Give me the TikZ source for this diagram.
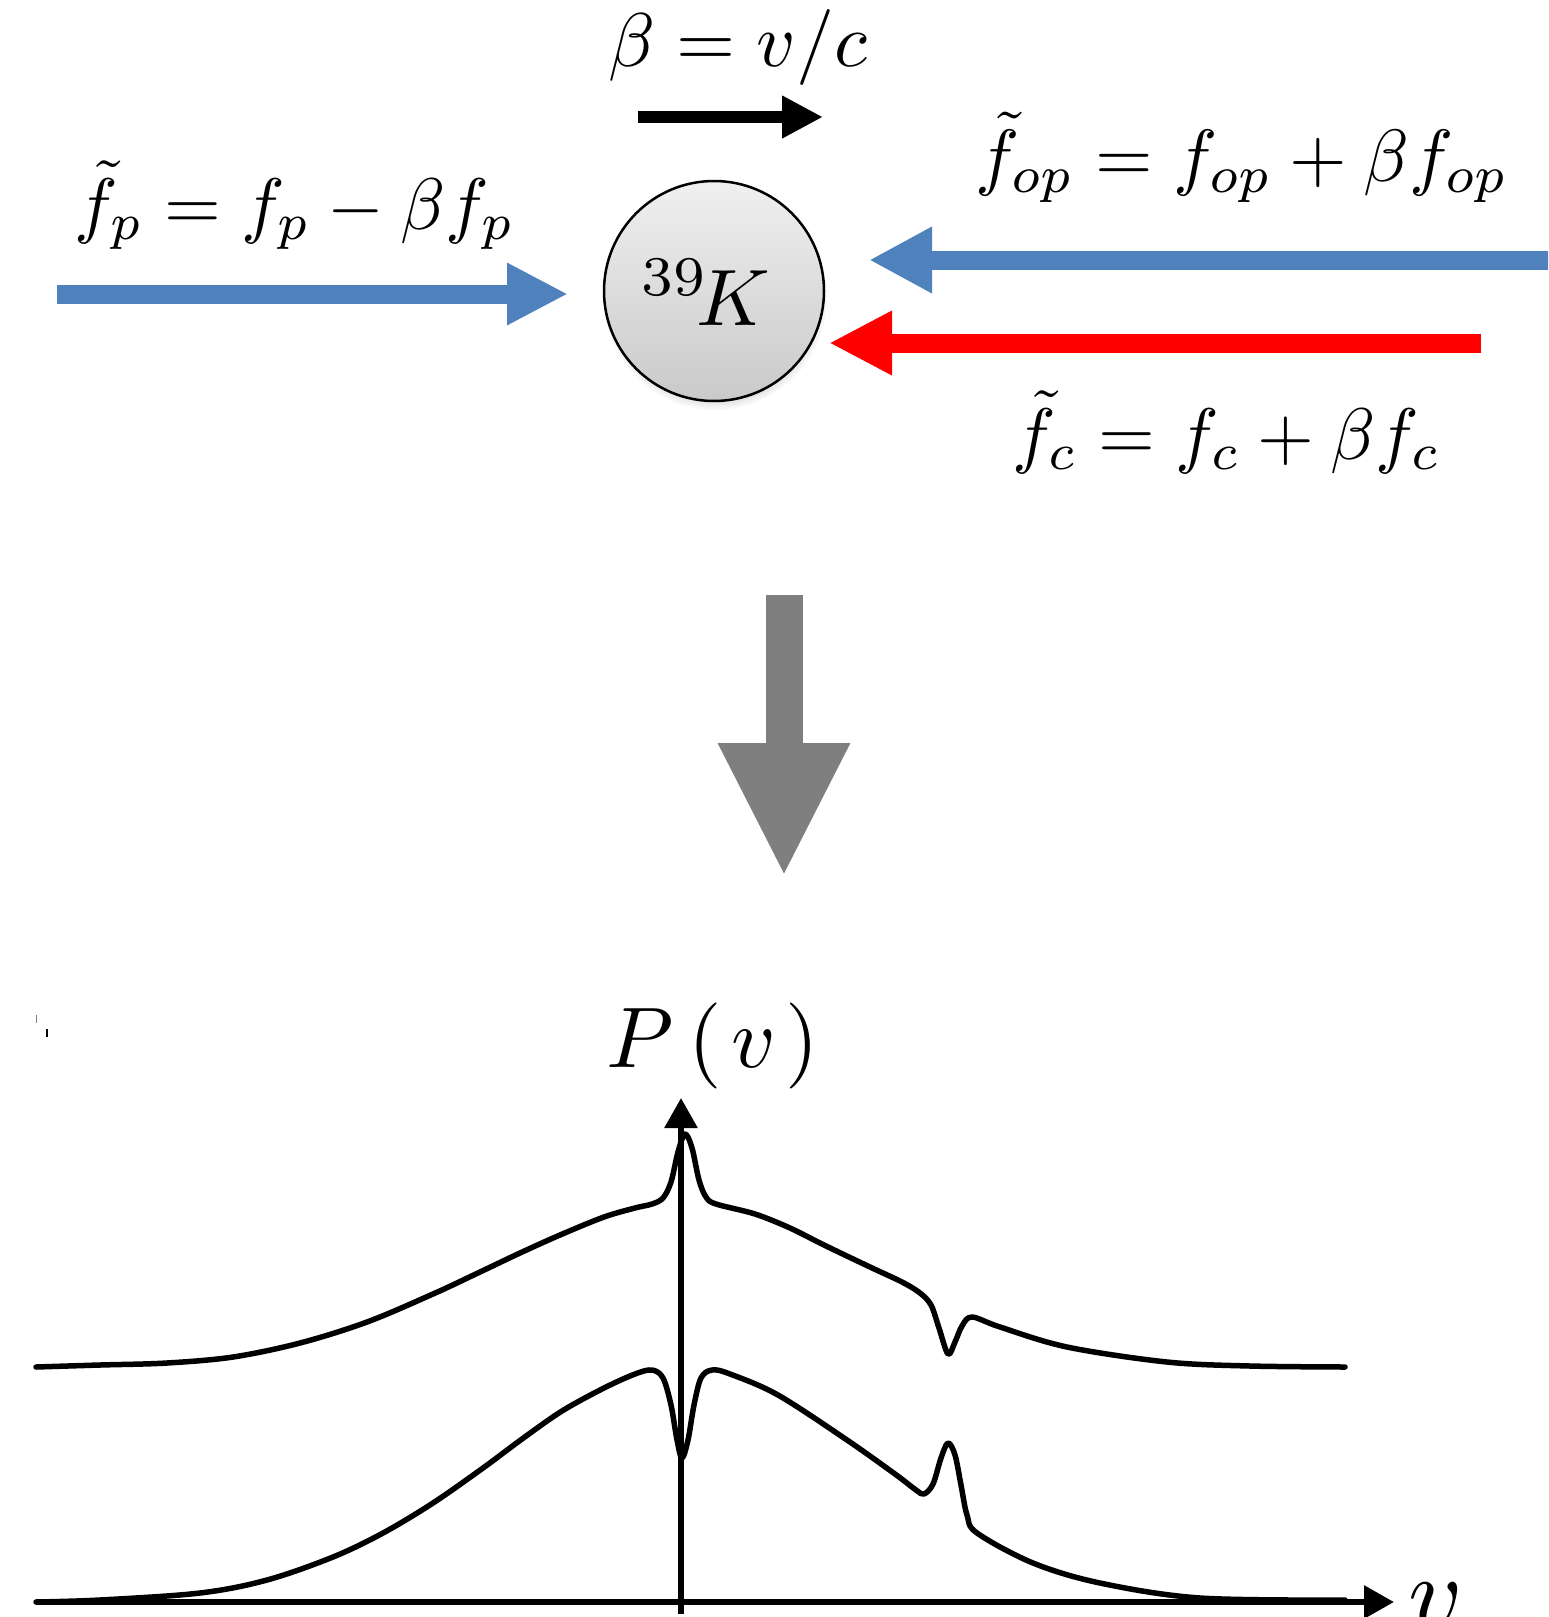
\documentclass[tikz,border=0pt]{standalone}
\usetikzlibrary{arrows.meta,shadows}
\definecolor{lblue}{HTML}{4F81BD}
\definecolor{lred}{HTML}{FF0000}
\definecolor{dgray}{HTML}{7F7F7F}
\tikzset{
  eqlabel/.style={anchor=base, inner sep=0pt, scale=7.3},
  beam/.style={line width=19pt},
  curve/.style={line width=5.5pt, line join=round, line cap=round},
  axisline/.style={line width=6pt, -{Triangle[length=30pt,width=32pt]}},
}
\begin{document}
\begin{tikzpicture}[x=1pt,y=-1pt]
\useasboundingbox (0,0) rectangle (1548,1617);
\clip (0,0) rectangle (1548,1617);

% atom
\node[circle, draw, line width=2.5pt, minimum size=220pt, inner sep=0pt,
      top color=gray!12, bottom color=gray!42,
      circular drop shadow={shadow scale=1.02, shadow xshift=1pt, shadow yshift=-7pt, opacity=0.4}] (atom) at (714,291) {};
\node[anchor=base, inner sep=0pt, scale=8] (iso) at (706,325) {${}^{39}\!K$};

% velocity arrow
\coordinate (vs) at (638,117);
\coordinate (ve) at (823,117);
\draw[line width=12.5pt, -{Triangle[length=41pt,width=40pt]}] (vs) -- (ve);
\node[eqlabel, scale=7.6/7.3] (beq) at (738,66) {$\beta = v/c$};

% probe beam
\coordinate (ps) at (57,294);
\coordinate (pt) at (568,294);
\draw[lblue, beam, -{Triangle[length=61pt,width=58pt]}] (ps) -- (pt);
\node[eqlabel] (fp) at (295,229) {$\tilde f_p = f_p - \beta f_p$};

% optical pumping beam
\coordinate (os) at (1560,260);
\coordinate (ot) at (869,260);
\draw[lblue, beam, -{Triangle[length=63pt,width=62pt]}] (os) -- (ot);
\node[eqlabel, scale=7.4/7.3] (fop) at (1242,181) {$\tilde f_{op} = f_{op} + \beta f_{op}$};

% coupling beam
\coordinate (cs) at (1481,343);
\coordinate (ct) at (829,343);
\draw[lred, beam, -{Triangle[length=63pt,width=60pt]}] (cs) -- (ct);
\node[eqlabel] (fc) at (1227,459) {$\tilde f_c = f_c + \beta f_c$};

% big down arrow
\coordinate (ds) at (784,595);
\coordinate (dt) at (784,877);
\draw[dgray, line width=37pt, -{Triangle[length=134pt,width=122pt]}] (ds) -- (dt);

% small marks
\draw[line width=1pt, gray] (36,1015) -- (36,1023);
\draw[line width=2pt] (47,1029) -- (47,1037);

% axes
\coordinate (yb) at (681,1614);
\coordinate (yt) at (681,1098);
\coordinate (xl) at (36,1602);
\coordinate (xr) at (1394,1602);
\draw[axisline] (yb) -- (yt);
\draw[axisline] (xl) -- (xr);
\node[anchor=base, inner sep=0pt, scale=8.6] (pv) at (713,1067) {$P\mkern3mu(\mkern2mu v\mkern2mu)$};
\node[anchor=base west, inner sep=0pt, scale=10.5] (nu) at (1406,1628) {$v$};

% upper spectrum
\draw[curve] plot[smooth, tension=0.55] coordinates {
 (36,1367) (100,1365) (167,1363) (233,1357) (300,1343) (367,1322) (433,1294)
 (480,1272) (520,1253) (560,1235) (604,1217) (635,1208) (652,1204) (663,1198)
 (671,1182) (678,1152) (685,1134) (692,1148) (699,1180) (706,1197) (716,1204)
 (755,1214) (790,1228) (824,1245) (870,1267) (902,1282) (920,1293) (931,1305)
 (939,1328) (948,1354) (955,1342) (962,1326) (972,1317) (1000,1327) (1067,1347)
 (1167,1362) (1250,1366) (1345,1367)};

% lower spectrum
\draw[curve] plot[smooth, tension=0.55] coordinates {
 (36,1602) (100,1600) (200,1593) (267,1580) (333,1557) (383,1533) (433,1503)
 (483,1468) (522,1439) (562,1411) (604,1388) (635,1374) (652,1370) (663,1378)
 (671,1405) (677,1440) (682,1458) (688,1440) (694,1405) (701,1378) (712,1370)
 (730,1374) (778,1395) (847,1440) (895,1474) (916,1490) (924,1494) (933,1484)
 (941,1458) (948,1443) (955,1455) (961,1485) (967,1515) (977,1533) (1033,1563)
 (1100,1583) (1200,1598) (1345,1600)};
\end{tikzpicture}
\end{document}
